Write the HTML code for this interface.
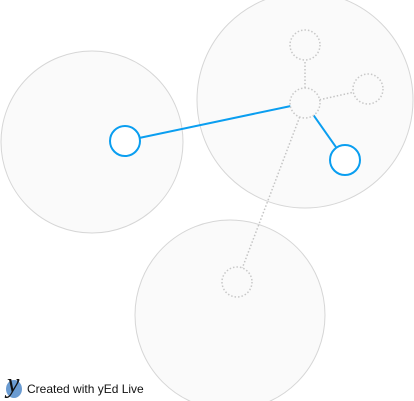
<!DOCTYPE html>
<html><head><meta charset="utf-8"><style>
html,body{margin:0;padding:0;background:#fff;width:414px;height:401px;overflow:hidden}
svg{display:block}
</style></head><body>
<svg id="g" width="414" height="401" xmlns="http://www.w3.org/2000/svg">
<g id="groups"></g><g id="edges"></g><g id="nodes"></g>
<g>
<ellipse cx="14" cy="389" rx="8" ry="9" fill="#6a9bd1"/>
<text x="7" y="392" font-family="Liberation Serif, serif" font-style="italic" font-size="28" fill="#111">y</text>
<text x="27" y="393" font-family="Liberation Sans, sans-serif" font-size="12" fill="#111">Created with yEd Live</text>
</g>
</svg>
<script>
const groupX=[92,305,230];
const groupY=[142,100,315];
const groupR=[91,108,95];
const nodeX=[125,345,305,305,368,237];
const nodeY=[141,160,103,45,89,282];
const nodeBlue=[1,1,0,0,0,0];
const edgeFrom=[0,2,2,2,2];
const edgeTo=[2,1,3,4,5];
const edgeBlue=[1,1,0,0,0];
const NS="http://www.w3.org/2000/svg";
const R=15;
const gg=document.getElementById('groups'),ge=document.getElementById('edges'),gn=document.getElementById('nodes');
for(let i=0;i<groupX.length;i++){
  const c=document.createElementNS(NS,'circle');
  c.setAttribute('cx',groupX[i]);c.setAttribute('cy',groupY[i]);c.setAttribute('r',groupR[i]);
  c.setAttribute('fill','#fafafa');c.setAttribute('stroke','#d6d6d6');c.setAttribute('stroke-width','1');
  
  
  gg.appendChild(c);
}
for(let i=0;i<edgeFrom.length;i++){
  const a=edgeFrom[i],b=edgeTo[i];
  const dx=nodeX[b]-nodeX[a],dy=nodeY[b]-nodeY[a],L=Math.hypot(dx,dy);
  const l=document.createElementNS(NS,'line');
  l.setAttribute('x1',nodeX[a]+dx/L*R);l.setAttribute('y1',nodeY[a]+dy/L*R);
  l.setAttribute('x2',nodeX[b]-dx/L*R);l.setAttribute('y2',nodeY[b]-dy/L*R);
  if(edgeBlue[i]){l.setAttribute('stroke','#0a9ef0');l.setAttribute('stroke-width','2');}
  else{l.setAttribute('stroke','#c4c4c4');l.setAttribute('stroke-width','1.5');l.setAttribute('stroke-dasharray','1.5 2');}
  
  
  ge.appendChild(l);
}
for(let i=0;i<nodeX.length;i++){
  const c=document.createElementNS(NS,'circle');
  c.setAttribute('cx',nodeX[i]);c.setAttribute('cy',nodeY[i]);c.setAttribute('r',R);
  c.setAttribute('fill',nodeBlue[i]?'#fff':'none');
  if(nodeBlue[i]){c.setAttribute('stroke','#0a9ef0');c.setAttribute('stroke-width','2');}
  else{c.setAttribute('stroke','#c8c8c8');c.setAttribute('stroke-width','1.5');c.setAttribute('stroke-dasharray','1.5 2');}
  
  
  gn.appendChild(c);
}
</script>
</body></html>
